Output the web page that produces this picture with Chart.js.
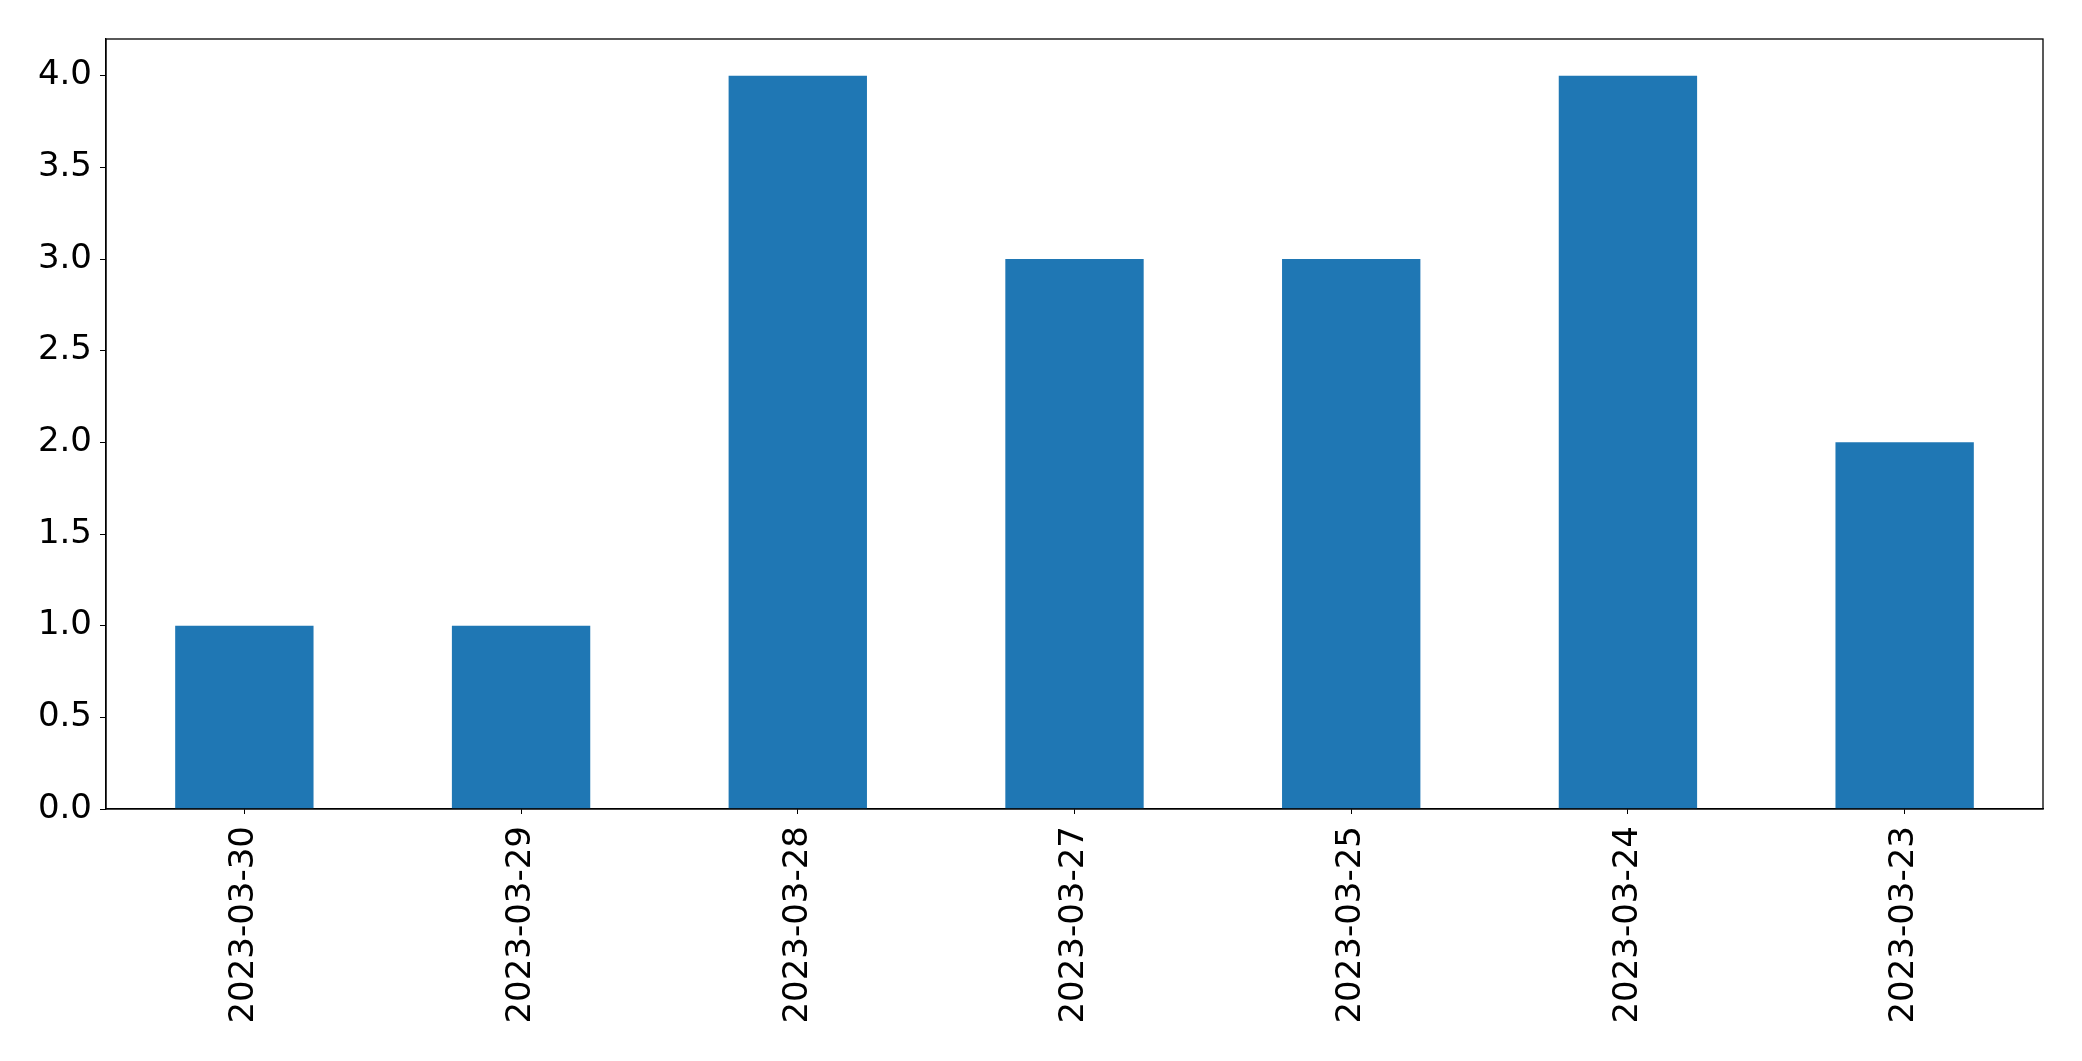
<!DOCTYPE html>
<html>
<head>
<meta charset="utf-8">
<script src="https://cdn.jsdelivr.net/npm/chart.js@4"></script>
<style>
  html, body { margin: 0; padding: 0; background: #fff; }
  #wrap { width: 2082px; height: 1061px; }
</style>
</head>
<body>
<div id="wrap"><canvas id="chart" width="2082" height="1061"></canvas></div>
<script>
// data
const dates = ["2023-03-30", "2023-03-29", "2023-03-28", "2023-03-27", "2023-03-25", "2023-03-24", "2023-03-23"];
const counts = [1, 1, 4, 3, 3, 4, 2];
const yTicks = [0, 0.5, 1, 1.5, 2, 2.5, 3, 3.5, 4];

const tickFont = { family: "DejaVu Sans", size: 34 };

// matplotlib style frame round the plot area
const frame = {
  id: "frame",
  afterDraw(chart) {
    const { ctx, chartArea: a } = chart;
    ctx.save();
    ctx.strokeStyle = "#000";
    ctx.lineWidth = 1.3;
    ctx.strokeRect(a.left, a.top, a.right - a.left, a.bottom - a.top);
    ctx.restore();
  }
};

new Chart(document.getElementById("chart"), {
  type: "bar",
  data: {
    labels: dates,
    datasets: [{ data: counts, backgroundColor: "#1f77b4", barPercentage: 0.5, categoryPercentage: 1 }]
  },
  options: {
    responsive: false,
    animation: false,
    layout: { padding: { top: 39, right: 39, left: 0, bottom: 0 } },
    plugins: { legend: { display: false }, tooltip: { enabled: false } },
    scales: {
      x: {
        offset: true,
        grid: { display: true, drawOnChartArea: false, tickLength: 5, tickColor: "#000", offset: false },
        border: { display: true, color: "#000", width: 1.3 },
        ticks: { color: "#000", font: tickFont, minRotation: 90, maxRotation: 90, padding: 12, autoSkip: false },
        afterFit(s) { s.height = 252; }
      },
      y: {
        min: 0,
        max: 4.2,
        grid: { display: true, drawOnChartArea: false, tickLength: 6, tickColor: "#000" },
        border: { display: true, color: "#000", width: 1.3 },
        ticks: {
          color: "#000", font: tickFont, padding: 8, includeBounds: false,
          callback: v => v.toFixed(1)
        },
        afterBuildTicks(s) { s.ticks = yTicks.map(v => ({ value: v })); },
        afterFit(s) { s.width = 106; }
      }
    }
  },
  plugins: [frame]
});
</script>
</body>
</html>
